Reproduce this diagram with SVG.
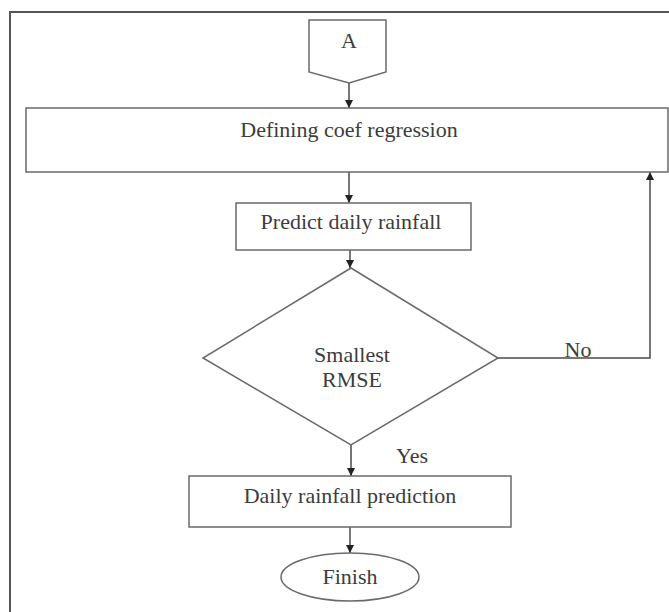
<svg xmlns="http://www.w3.org/2000/svg" width="669" height="612" viewBox="0 0 669 612">
<defs>
<style>
.shape{fill:#fff;stroke:#6a6a6a;stroke-width:1.5}
.line{fill:none;stroke:#4a4a4a;stroke-width:1.5}
.t{font-family:"Liberation Serif","Times New Roman",serif;font-size:22px;fill:#3c3c3c;text-anchor:middle}
</style>
<marker id="ah" viewBox="0 0 10 10" refX="10" refY="5" markerWidth="8" markerHeight="8" markerUnits="userSpaceOnUse" orient="auto">
<path d="M0,0 L10,5 L0,10 z" fill="#222"/>
</marker>
</defs>
<rect width="669" height="612" fill="#fff"/>
<g id="frame">
<path d="M10,612 V12 H669" fill="none" stroke="#555" stroke-width="2"/>
</g>
<g id="connectors">
<path class="line" d="M349,83 V108" marker-end="url(#ah)"/>
<path class="line" d="M349,172 V203" marker-end="url(#ah)"/>
<path class="line" d="M350,250 V268" marker-end="url(#ah)"/>
<path class="line" d="M351,445 V476" marker-end="url(#ah)"/>
<path class="line" d="M350,527 V553" marker-end="url(#ah)"/>
<path class="line" d="M498,358 H650 V172" marker-end="url(#ah)"/>
<text class="t" x="578" y="357">No</text>
<text class="t" x="412" y="463">Yes</text>
</g>
<g id="nodeA">
<path class="shape" d="M309,20 H386 V72 L349,83 L309,72 Z"/>
<text class="t" x="349" y="48">A</text>
</g>
<g id="nodeDefine">
<rect class="shape" x="26" y="108" width="642" height="64"/>
<text class="t" x="349" y="137">Defining coef regression</text>
</g>
<g id="nodePredict">
<rect class="shape" x="236" y="203" width="235" height="47"/>
<text class="t" x="351" y="229">Predict daily rainfall</text>
</g>
<g id="nodeDecision">
<path class="shape" d="M351,268 L498,358 L351,445 L203,358 Z"/>
<text class="t" x="352" y="362">Smallest</text>
<text class="t" x="352" y="387">RMSE</text>
</g>
<g id="nodeDaily">
<rect class="shape" x="189" y="476" width="322" height="51"/>
<text class="t" x="350" y="503">Daily rainfall prediction</text>
</g>
<g id="nodeFinish">
<ellipse class="shape" cx="350" cy="577" rx="69" ry="24"/>
<text class="t" x="350" y="584">Finish</text>
</g>
</svg>
